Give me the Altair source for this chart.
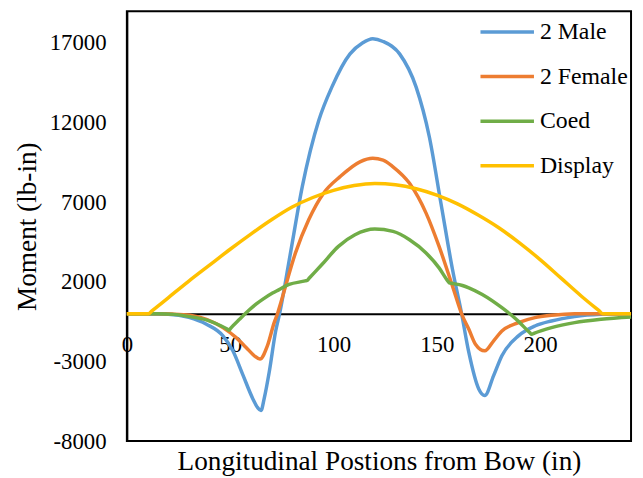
import altair as alt
import pandas as pd

series_names = ["2 Male", "2 Female", "Coed", "Display"]
series_colors = ["#5B9BD5", "#ED7D31", "#70AD47", "#FFC000"]

male_x = [0, 10, 20, 30, 38.5, 46.5, 51.3, 56, 61, 63.3, 64.9, 66.5, 68.9, 72, 73.9, 79.3, 84.9,
          92.9, 99.2, 108, 114, 119, 124, 132, 140, 146.4, 152, 157.6, 162, 165.5, 170.3,
          173.2, 177.5, 181.5, 189.5, 197.5, 205.5, 216.7, 229.5, 244]
male_y = [0, 0, -30, -230, -660, -1390, -2330, -3790, -5350, -5900, -6080, -5300, -3660, -1100, 0,
          3900, 7980, 12150, 14230, 16320, 17000, 17270, 17100, 16320, 14230, 11100, 6940,
          2775, 0, -2430, -4725, -5140, -3890, -2640, -1390, -770, -455, -180, -40, 0]

female_x = [0, 15, 22, 30.5, 38.5, 46.5, 52.9, 57.7, 61.7, 64.4, 68, 71.3, 72.9, 74.5, 81.6, 88,
            95.2, 103.2, 112.8, 119, 124, 128.8, 136.8, 144.8, 151.1, 157.6, 162.4, 165.5,
            168.7, 173.2, 177.5, 181.5, 189.5, 197.5, 205.5, 216.7, 244]
female_y = [0, 0, -20, -100, -350, -870, -1500, -2120, -2640, -2850, -2020, -560, 0, 690, 3820,
            5900, 7570, 8610, 9540, 9760, 9650, 9230, 8190, 6320, 4230, 1730, -140, -975,
            -1910, -2330, -1700, -1080, -560, -245, -100, 0, 0]

coed_x = [0, 15, 22.5, 30.5, 38.5, 44.9, 48.5, 49.4, 50.3, 54.5, 59.3, 62.5, 65.7, 70.5, 73.5,
          78.5, 86.3, 87.2, 88.2, 94.4, 102.4, 110.4, 120, 128.8, 136.8, 144.8, 151.1, 155,
          156, 157, 162.4, 165.5, 172, 181.5, 188, 189.5, 195, 195.9, 197, 205.5, 216.7,
          229.5, 244]
coed_y = [0, 0, -40, -180, -390, -725, -960, -1040, -900, -350, 250, 600, 900, 1300, 1500,
          1840, 2060, 2090, 2230, 3090, 4230, 4960, 5320, 5170, 4650, 3820, 2880, 2110,
          1940, 1915, 1775, 1630, 1210, 380, -300, -480, -1190, -1290, -1230, -870, -560,
          -350, -205]

display_x = [0, 10.5, 12, 20, 30, 40, 50, 60, 70, 80, 90, 100, 110, 120, 130, 140, 150, 160,
             170, 180, 190, 200, 210, 220, 228.5, 230.3, 244]
display_y = [0, 0, 160, 1000, 2050, 3050, 4050, 5000, 5900, 6700, 7300, 7750, 8050, 8180,
             8100, 7850, 7450, 6900, 6200, 5400, 4450, 3400, 2250, 1100, 190, 0, 0]

x_ticks = [0, 50, 100, 150, 200]
y_ticks = [-8000, -3000, 2000, 7000, 12000, 17000]

rows = []
for name, xs, ys in zip(series_names,
                        [male_x, female_x, coed_x, display_x],
                        [male_y, female_y, coed_y, display_y]):
    for i, (xv, yv) in enumerate(zip(xs, ys)):
        rows.append({"series": name, "x": xv, "y": yv, "i": i})
df = pd.DataFrame(rows)

FONT = "Liberation Serif"
FS = 23
TFS = 27.5
W, H = 509, 434
YMIN, YMAX = -8000, 19000
zero_px = H * YMAX / (YMAX - YMIN)

lines = alt.Chart(df).mark_line(strokeWidth=3.5, interpolate="monotone").encode(
    x=alt.X("x:Q", scale=alt.Scale(domain=[0, 244], nice=False, zero=False),
            axis=alt.Axis(values=x_ticks, offset=-(H - zero_px), ticks=False, labelFlush=False,
                          labelPadding=20, domainColor="black", domainWidth=2, grid=False,
                          labelExpr="toString(datum.value)",
                          labelFont=FONT, labelFontSize=FS, labelColor="black",
                          title="Longitudinal Postions from Bow (in)",
                          titleFont=FONT, titleFontSize=TFS, titleColor="black",
                          titleFontWeight="normal",
                          titleY=H - zero_px + 21, titleBaseline="middle", titleAnchor="middle")),
    y=alt.Y("y:Q", scale=alt.Scale(domain=[YMIN, YMAX], nice=False),
            axis=alt.Axis(values=y_ticks, ticks=False, labelPadding=21, domainColor="black",
                          domainWidth=2, grid=False, labelExpr="toString(datum.value)",
                          labelFont=FONT, labelFontSize=FS, labelColor="black",
                          title="Moment (lb-in)", titleFont=FONT, titleFontSize=TFS,
                          titleColor="black", titleFontWeight="normal",
                          titleX=-100, titleY=H / 2, titleAngle=-90, titleAlign="center",
                          titleBaseline="middle")),
    color=alt.Color("series:N", scale=alt.Scale(domain=series_names, range=series_colors),
                    legend=alt.Legend(orient="none", legendX=355, legendY=-8, title=None,
                                      symbolType="stroke", symbolSize=2916,
                                      symbolStrokeWidth=3.5, labelFontSize=24, labelFont=FONT,
                                      labelColor="black", labelOffset=4, rowPadding=4)),
    order=alt.Order("i:Q"),
    detail="series:N",
)

frame = alt.Chart(alt.Data(values=[{"a": 1}])).mark_rect(
    fill="transparent", stroke="black", strokeWidth=2
).encode(
    x=alt.value(0), x2=alt.value(W), y=alt.value(0), y2=alt.value(H)
)

chart = alt.layer(frame, lines).properties(
    width=W, height=H,
    background="white",
    autosize=alt.AutoSizeParams(type="none"),
    padding={"left": 120, "top": 1, "right": 4, "bottom": 35},
).configure_view(
    stroke=None
).configure_legend(
    labelFont=FONT, labelFontSize=24, labelColor="black"
)

chart.save("out.html", embed_options={"renderer": "svg", "actions": False})
